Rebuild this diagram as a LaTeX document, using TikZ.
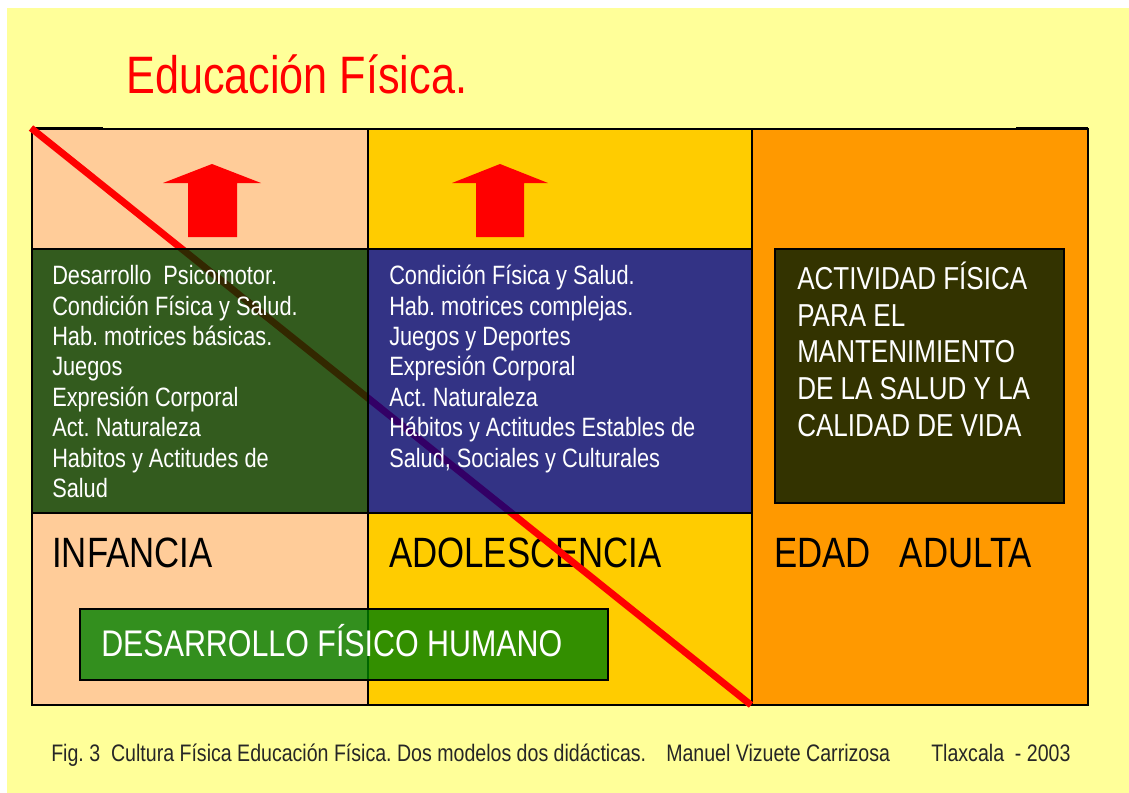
\documentclass[tikz,border=0pt]{standalone}
\usepackage{fontspec}
\setmainfont[FakeStretch=0.82]{Liberation Sans}
\definecolor{bgyellow}{HTML}{FFFF99}
\definecolor{peach}{HTML}{FFCC99}
\definecolor{goldc}{HTML}{FFCC00}
\definecolor{orangec}{HTML}{FF9900}
\definecolor{dkgreen}{HTML}{003300}
\definecolor{navyc}{HTML}{000080}
\definecolor{olivec}{HTML}{333300}
\definecolor{midgreen}{HTML}{008000}
\frenchspacing
\begin{document}
\begin{tikzpicture}[x=0.75pt,y=-0.75pt,
  cellb/.style={draw=black,line width=1.5pt},
  blockarrow/.style={fill=red},
  listtext/.style={anchor=north west,inner sep=0pt,align=left,text=white,
    font=\fontsize{19.9pt}{22.8pt}\selectfont},
  agetext/.style={anchor=base west,inner sep=0pt,text=black,
    font=\fontsize{31.8pt}{36pt}\selectfont},
  captext/.style={anchor=base west,inner sep=0pt,text=black!85,
    font=\fontsize{17.9pt}{20pt}\selectfont}]
\useasboundingbox (0,0) rectangle (1129,793);
\fill[white] (0,0) rectangle (1129,793);
\fill[bgyellow] (7,8) rectangle (1129,793);

% title
\node[anchor=base west,inner sep=0pt,text=red,font=\fontsize{39.5pt}{45pt}\selectfont]
  (title) at (126,93) {Educación Física.};

% cells
\draw[cellb,fill=peach] (32,129) rectangle (368,249);
\draw[cellb,fill=goldc] (368,129) rectangle (752,249);
\draw[cellb,fill=peach] (32,513) rectangle (368,705);
\draw[cellb,fill=goldc] (368,513) rectangle (752,705);
\draw[cellb,fill=orangec] (752,129) rectangle (1088,705);
\draw[line width=1.5pt] (34,127.6) -- (103,127.6);
\draw[line width=1.5pt] (1016,127.6) -- (1088,127.6);

% arrows
\fill[blockarrow] (212,164) -- (261,183) -- (237,183) -- (237,237) -- (188,237) -- (188,183) -- (163,183) -- cycle;
\fill[blockarrow] (500,164) -- (548,183) -- (524,183) -- (524,237) -- (476,237) -- (476,183) -- (452,183) -- cycle;

% age labels
\node[agetext] (infancia) at (52,567) {INFANCIA};
\node[agetext] (adolesc) at (389,567) {ADOLESCENCIA};
\node[agetext] (adulta) at (774,567) {EDAD\ \ \ ADULTA};

% red diagonal
\coordinate (ls) at (31,128);
\coordinate (le) at (751,705);
\draw[red,line width=5.2pt] (ls) -- (le);

% middle boxes
\draw[cellb,fill=dkgreen,fill opacity=0.8] (32,249) rectangle (368,513);
\draw[cellb,fill=navyc,fill opacity=0.8] (368,249) rectangle (752,513);
\draw[cellb,fill=olivec] (775,248.5) rectangle (1064,502.5);

\node[listtext] (inf) at (52,257.8) {\rule{0pt}{1em}Desarrollo\ \ Psicomotor.\\
Condición Física y Salud.\\
Hab. motrices básicas.\\
Juegos\\
Expresión Corporal\\
Act. Naturaleza\\
Habitos y Actitudes de\\
Salud};

\node[listtext] (ado) at (389,257.8) {\rule{0pt}{1em}Condición Física y Salud.\\
Hab. motrices complejas.\\
Juegos y Deportes\\
Expresión Corporal\\
Act. Naturaleza\\
Hábitos y Actitudes Estables de\\
Salud, Sociales y Culturales};

\node[listtext,font=\fontsize{23.8pt}{27.5pt}\selectfont] (adu) at (797,257.6) {\rule{0pt}{1em}ACTIVIDAD FÍSICA\\
PARA EL\\
MANTENIMIENTO\\
DE LA SALUD Y LA\\
CALIDAD DE VIDA};

% green band
\draw[cellb,fill=midgreen,fill opacity=0.8] (80,609) rectangle (608,680);
\node[anchor=base west,inner sep=0pt,text=white,font=\fontsize{27.8pt}{32pt}\selectfont]
  (dfh) at (101,656) {DESARROLLO FÍSICO HUMANO};

% caption
\node[captext] (cap1) at (51,761) {Fig. 3\ \ Cultura Física Educación Física. Dos modelos dos didácticas.};
\node[captext] (cap2) at (666,761) {Manuel Vizuete Carrizosa};
\node[captext] (cap3) at (931,761) {Tlaxcala\ \ - 2003};
\end{tikzpicture}
\end{document}
